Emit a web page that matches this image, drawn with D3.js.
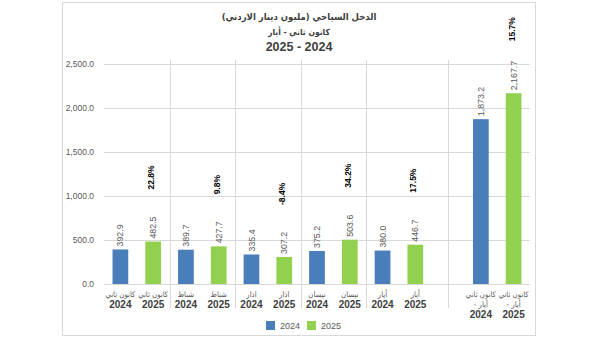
<!DOCTYPE html>
<html><head><meta charset="utf-8">
<script src="https://cdn.jsdelivr.net/npm/d3@7"></script>
<style>body{margin:0;background:#fff}svg{display:block}text{font-family:"Liberation Sans","DejaVu Sans",Arial,sans-serif}.ar{font-family:"DejaVu Sans Condensed","DejaVu Sans",sans-serif}</style>
</head><body><svg id="c" width="598" height="337"></svg>
<script>
const months = ["كانون ثاني","شباط","اذار","نيسان","أيار"];
const totalLabel = ["كانون ثاني","- أيار"];
const years = ["2024","2025"];
const values2024 = [392.9, 389.7, 335.4, 375.2, 380.0, 1873.2];
const values2025 = [482.5, 427.7, 307.2, 503.6, 446.7, 2167.7];
const growth = ["22.8%","9.8%","-8.4%","34.2%","17.5%","15.7%"];
const yTicks = [0, 500, 1000, 1500, 2000, 2500];
const titleLines = ["الدخل السياحي (مليون دينار الاردني)","كانون ثاني - أيار","2025 - 2024"];
const colors = {"2024":"#4a7ebb","2025":"#92d050"};

const svg = d3.select("#c");
function fitWidth(sel, target){
  const w = sel.node().getComputedTextLength();
  const fs = parseFloat(sel.style("font-size"));
  const nf = fs*target/w;
  sel.style("font-size", nf+"px");
  return nf;
}
const slots = [];
months.forEach((m,i)=>{ slots.push({g:i,y:"2024",v:values2024[i]}); slots.push({g:i,y:"2025",v:values2025[i]}); });
slots.push({g:-1});
slots.push({g:5,y:"2024",v:values2024[5]}); slots.push({g:5,y:"2025",v:values2025[5]});
slots.forEach((d,i)=>d.k=i);

const x = d3.scaleBand().domain(slots.map(d=>d.k)).range([104,530]).paddingInner(0.52).paddingOuter(0.26);
const xs = d3.scaleBand().domain(slots.map(d=>d.k)).range([104,530]);
const y = d3.scaleLinear().domain([0,2500]).range([284,64]);

svg.append("rect").attr("x",62.5).attr("y",2.5).attr("width",473).attr("height",333).attr("fill","none").attr("stroke","#d9d9d9");

// title
const tW = [155, 62, null];
titleLines.forEach((t,i)=>{
  const tt = svg.append("text").attr("x",299).attr("y",19.5+i*15.5).attr("text-anchor","middle")
    .attr("direction", i<2 ? "rtl":"ltr").attr("class", i<2?"ar":null)
    .style("font-size","12.5px").style("font-weight","bold").attr("fill","#404040").text(t);
  if(tW[i]) fitWidth(tt, tW[i]);
});

svg.append("g").selectAll("line").data(yTicks).join("line")
  .attr("x1",104).attr("x2",530).attr("y1",d=>y(d)+0.5).attr("y2",d=>y(d)+0.5)
  .attr("stroke","#d9d9d9");
svg.append("g").selectAll("text").data(yTicks).join("text")
  .attr("x",94).attr("y",d=>y(d)).attr("dy","0.35em").attr("text-anchor","end")
  .style("font-size","8.5px").attr("fill","#595959").text(d3.format(",.1f"));

const sepX = [2,4,6,8].map(k=>xs(k)).concat([xs(10)+xs.bandwidth()/2]);
svg.append("g").selectAll("line").data(sepX).join("line")
  .attr("x1",d=>Math.round(d)+0.5).attr("x2",d=>Math.round(d)+0.5).attr("y1",60).attr("y2",308)
  .attr("stroke","#d9d9d9");

const bars = slots.filter(d=>d.g>=0);
svg.append("g").selectAll("rect").data(bars).join("rect")
  .attr("x",d=>x(d.k)).attr("width",x.bandwidth())
  .attr("y",d=>y(d.v)).attr("height",d=>y(0)-y(d.v)).attr("fill",d=>colors[d.y]);

svg.append("g").selectAll("text").data(bars).join("text")
  .attr("transform",d=>`translate(${x(d.k)+x.bandwidth()/2},${y(d.v)-3}) rotate(-90)`)
  .attr("dy","0.35em").style("font-size","8.8px").attr("fill","#595959")
  .text(d=>d3.format(",.1f")(d.v));

const g25 = bars.filter(d=>d.y==="2025");
svg.append("g").selectAll("text").data(g25).join("text")
  .attr("transform",d=>`translate(${x(d.k)+x.bandwidth()/2-2},${y(d.v)-52}) rotate(-90)`)
  .attr("dy","0.35em").style("font-size","8.5px").style("font-weight","bold").attr("fill","#000")
  .text((d,i)=>growth[i]);

// measure arabic label size
const probe = svg.append("text").attr("class","ar").style("font-size","10px").text(months[0]);
const arSize = fitWidth(probe, 30);
probe.remove();

bars.forEach(d=>{
  const cx = xs(d.k)+xs.bandwidth()/2;
  if(d.g<5){
    svg.append("text").attr("x",cx).attr("y",297).attr("text-anchor","middle").attr("direction","rtl").attr("class","ar")
      .style("font-size",arSize+"px").attr("fill","#595959").text(months[d.g]);
    svg.append("text").attr("x",cx).attr("y",308).attr("text-anchor","middle")
      .style("font-size","10px").style("font-weight","bold").attr("fill","#404040").text(d.y);
  } else {
    totalLabel.forEach((t,i)=>{
      svg.append("text").attr("x",cx).attr("y",297+i*10).attr("text-anchor","middle").attr("direction", i===0?"rtl":"ltr").attr("class","ar")
        .style("font-size",arSize+"px").attr("fill","#595959").text(t);
    });
    svg.append("text").attr("x",cx).attr("y",317.5).attr("text-anchor","middle")
      .style("font-size","10px").style("font-weight","bold").attr("fill","#404040").text(d.y);
  }
});

const lg = svg.append("g");
years.forEach((yr,i)=>{
  const lx = 266 + i*41;
  lg.append("rect").attr("x",lx).attr("y",321).attr("width",9).attr("height",9).attr("fill",colors[yr]);
  lg.append("text").attr("x",lx+14).attr("y",329).style("font-size","9px").attr("fill","#595959").text(yr);
});
</script></body></html>
